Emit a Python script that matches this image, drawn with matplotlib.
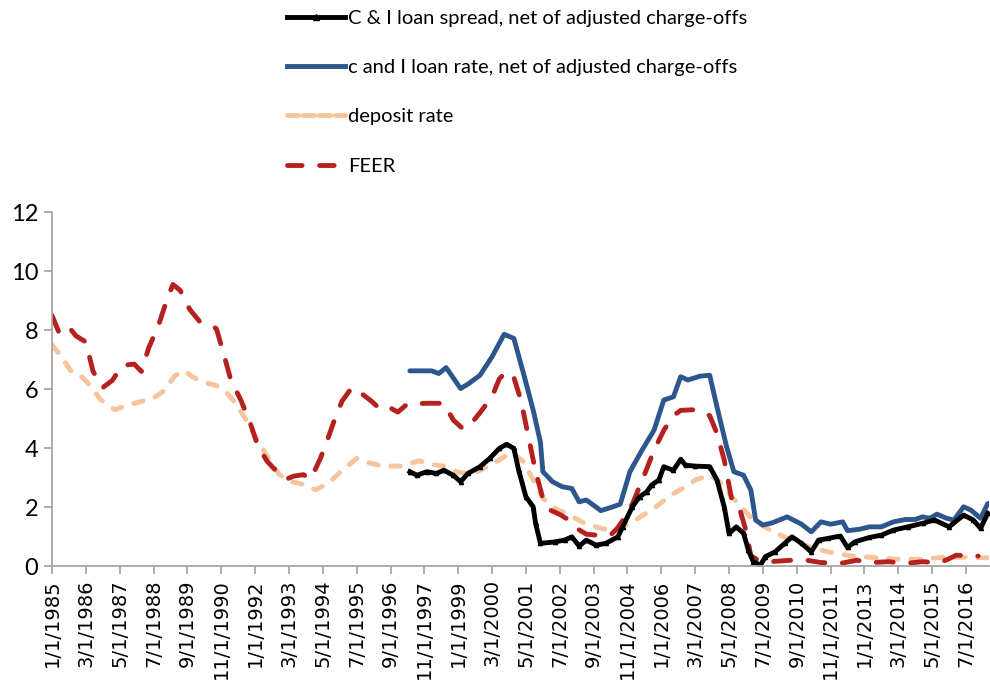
import matplotlib.pyplot as plt
from matplotlib.lines import Line2D
import numpy as np

# Data (month, value)
feer_dates = ['1985-01', '1985-04', '1985-08', '1985-11', '1986-03', '1986-06', '1986-10',
              '1987-02', '1987-06', '1987-11', '1988-02', '1988-05', '1988-09', '1988-12',
              '1989-03', '1989-06', '1989-10', '1990-02', '1990-06', '1990-09', '1990-12',
              '1991-03', '1991-07', '1991-11', '1992-02', '1992-06', '1992-10', '1993-02',
              '1993-05', '1993-09', '1993-12', '1994-04', '1994-07', '1994-10', '1995-01',
              '1995-05', '1995-09', '1996-01', '1996-05', '1996-09', '1996-12', '1997-04',
              '1997-12', '1998-07', '1998-11', '1999-03', '1999-06', '1999-10', '2000-03',
              '2000-06', '2000-09', '2000-12', '2001-03', '2001-06', '2001-09', '2001-12',
              '2002-03', '2002-07', '2002-10', '2003-02', '2003-06', '2003-10', '2004-04',
              '2004-07', '2004-10', '2005-01', '2005-06', '2005-10', '2006-02', '2006-06',
              '2006-09', '2007-02', '2007-06', '2007-09', '2007-12', '2008-03', '2008-06',
              '2008-09', '2008-12', '2009-02', '2009-05', '2009-10', '2010-07', '2011-01',
              '2011-07', '2012-03', '2012-10', '2013-02', '2013-11', '2014-06', '2015-01',
              '2015-08', '2015-12', '2016-03', '2016-10', '2016-12']
feer = [8.5, 7.9, 8.1, 7.8, 7.6, 6.6, 6.05,
        6.3, 6.8, 6.85, 6.6, 7.4, 8.15, 8.9,
        9.55, 9.35, 8.7, 8.3, 8.2, 8.05, 7.2,
        6.3, 5.65, 4.85, 4.1, 3.55, 3.2, 2.95,
        3.05, 3.1, 2.95, 3.65, 4.3, 5.0, 5.6,
        6.05, 5.85, 5.6, 5.3, 5.36, 5.22, 5.5,
        5.52, 5.52, 4.95, 4.65, 4.8, 5.2, 5.75,
        6.35, 6.6, 6.4, 5.6, 4.4, 3.2, 2.3,
        1.9, 1.75, 1.6, 1.28, 1.08, 1.05, 1.05,
        1.3, 1.67, 2.1, 3.1, 3.93, 4.6, 5.1,
        5.28, 5.3, 5.25, 5.1, 4.5, 3.6, 2.3,
        2.05, 1.2, 0.35, 0.2, 0.15, 0.2, 0.2,
        0.12, 0.09, 0.2, 0.11, 0.15, 0.09, 0.15,
        0.11, 0.25, 0.37, 0.34, 0.34]

deposit_dates = ['1985-01', '1985-04', '1985-09', '1986-01', '1986-05', '1986-09', '1987-03',
                 '1987-08', '1988-04', '1988-07', '1988-11', '1989-04', '1989-08', '1989-11',
                 '1990-03', '1990-09', '1991-01', '1991-05', '1991-09', '1992-02', '1992-07',
                 '1992-11', '1993-04', '1993-10', '1994-02', '1994-08', '1995-01', '1995-07',
                 '1996-01', '1996-06', '1997-01', '1997-09', '1998-01', '1998-07', '1999-01',
                 '1999-06', '1999-11', '2000-06', '2000-11', '2001-04', '2001-08', '2001-12',
                 '2002-05', '2002-11', '2003-06', '2004-01', '2004-06', '2004-12', '2005-03',
                 '2005-10', '2006-05', '2006-11', '2007-03', '2007-09', '2008-01', '2008-05',
                 '2008-10', '2009-03', '2009-10', '2010-05', '2010-12', '2011-07', '2012-01',
                 '2012-08', '2013-05', '2014-03', '2015-02', '2015-09', '2016-06', '2017-04']
deposit = [7.5, 7.2, 6.6, 6.45, 6.1, 5.65, 5.3,
           5.45, 5.63, 5.7, 5.92, 6.47, 6.62, 6.42,
           6.25, 6.12, 5.9, 5.52, 5.0, 4.27, 3.6,
           3.1, 2.86, 2.75, 2.58, 2.86, 3.25, 3.65,
           3.48, 3.39, 3.39, 3.57, 3.46, 3.39, 3.18,
           3.12, 3.28, 3.6, 3.86, 3.54, 2.92, 2.3,
           1.96, 1.73, 1.42, 1.26, 1.24, 1.45, 1.6,
           1.96, 2.41, 2.69, 2.92, 3.08, 2.86, 2.46,
           2.01, 1.56, 1.22, 0.94, 0.71, 0.54, 0.43,
           0.34, 0.29, 0.23, 0.23, 0.3, 0.3, 0.28]

loan_dates = ['1997-05', '1998-02', '1998-05', '1998-08', '1999-02', '1999-05', '1999-10',
              '2000-03', '2000-08', '2000-12', '2001-04', '2001-08', '2001-11', '2001-12',
              '2002-04', '2002-08', '2002-12', '2003-03', '2003-06', '2003-12', '2004-05',
              '2004-08', '2004-12', '2005-05', '2005-10', '2006-02', '2006-06', '2006-09',
              '2006-12', '2007-05', '2007-09', '2007-12', '2008-04', '2008-07', '2008-11',
              '2009-02', '2009-04', '2009-07', '2009-11', '2010-05', '2010-11', '2011-03',
              '2011-07', '2011-11', '2012-04', '2012-06', '2012-11', '2013-03', '2013-08',
              '2014-01', '2014-06', '2014-10', '2015-01', '2015-04', '2015-07', '2015-11',
              '2016-02', '2016-06', '2016-09', '2017-01', '2017-04']
loan_rate = [6.62, 6.62, 6.53, 6.73, 6.02, 6.17, 6.47,
             7.1, 7.86, 7.72, 6.53, 5.29, 4.2, 3.2,
             2.86, 2.69, 2.63, 2.18, 2.24, 1.88, 2.01,
             2.1, 3.2, 3.93, 4.61, 5.63, 5.74, 6.42,
             6.31, 6.44, 6.47, 5.4, 4.04, 3.2, 3.08,
             2.58, 1.56, 1.39, 1.47, 1.67, 1.42, 1.16,
             1.5, 1.42, 1.5, 1.2, 1.25, 1.33, 1.33,
             1.5, 1.58, 1.58, 1.67, 1.62, 1.76, 1.62,
             1.56, 2.01, 1.9, 1.62, 2.12]

spread_dates = ['1997-05', '1997-08', '1997-12', '1998-04', '1998-07', '1998-11', '1999-02',
                '1999-05', '1999-10', '2000-02', '2000-06', '2000-09', '2000-12', '2001-02',
                '2001-05', '2001-08', '2001-09', '2001-11', '2002-05', '2002-09', '2002-12',
                '2003-03', '2003-06', '2003-10', '2004-02', '2004-07', '2004-09', '2005-01',
                '2005-04', '2005-07', '2005-09', '2005-12', '2006-02', '2006-06', '2006-09',
                '2006-11', '2007-03', '2007-09', '2007-12', '2008-03', '2008-05', '2008-08',
                '2008-11', '2009-01', '2009-03', '2009-06', '2009-08', '2009-12', '2010-04',
                '2010-07', '2010-11', '2011-03', '2011-06', '2011-10', '2012-03', '2012-06',
                '2012-09', '2013-03', '2013-08', '2014-01', '2014-07', '2015-01', '2015-06',
                '2015-12', '2016-06', '2016-10', '2017-01', '2017-04']
spread = [3.2, 3.08, 3.2, 3.14, 3.25, 3.08, 2.86,
          3.14, 3.37, 3.65, 3.99, 4.13, 3.99, 3.25,
          2.35, 2.01, 1.45, 0.77, 0.82, 0.88, 0.99,
          0.68, 0.88, 0.71, 0.77, 0.99, 1.33, 2.01,
          2.35, 2.52, 2.75, 2.92, 3.37, 3.25, 3.62,
          3.42, 3.39, 3.37, 2.92, 2.01, 1.11, 1.33,
          1.11, 0.54, 0.15, 0.03, 0.32, 0.48, 0.77,
          0.99, 0.77, 0.48, 0.88, 0.94, 1.02, 0.63,
          0.82, 0.97, 1.05, 1.22, 1.33, 1.45, 1.56,
          1.33, 1.73, 1.56, 1.28, 1.79]


def month_index(s):
    y, m = map(int, s.split('-'))
    return (y - 1985) * 12 + m - 1


def to_x(dates):
    return np.array([month_index(d) for d in dates])


fig = plt.figure(figsize=(9.9, 6.98), dpi=100)
ax = fig.add_axes([0.0525, 0.189, 0.946, 0.507])

lw = 3.5
ax.plot(to_x(deposit_dates), deposit, color='#f5c49c', lw=lw,
        dashes=(2.0, 2.6), dash_capstyle='round')
ax.plot(to_x(feer_dates), feer, color='#b5211e', lw=lw,
        dashes=(3.5, 3.6), dash_capstyle='round')
ax.plot(to_x(loan_dates), loan_rate, color='#2c568c', lw=lw, solid_capstyle='round')
ax.plot(to_x(spread_dates), spread, color='black', lw=lw,
        marker='^', markersize=3)

ax.set_xlim(0, 387.3)
ax.set_ylim(0, 12)
ax.set_yticks(range(0, 13, 2))

tick_pos = np.arange(0, 379, 14)
tick_labels = []
for p in tick_pos:
    y, m = divmod(int(p), 12)
    tick_labels.append(f'{m + 1}/1/{1985 + y}')
ax.set_xticks(tick_pos)
ax.set_xticklabels(tick_labels, rotation=90, fontsize=14, family='DejaVu Sans')

for lab in ax.get_yticklabels():
    lab.set_family(['Lato', 'DejaVu Sans'])
    lab.set_fontsize(17)

for s in ['top', 'right']:
    ax.spines[s].set_visible(False)
for s in ['left', 'bottom']:
    ax.spines[s].set_color('#a6a6a6')
    ax.spines[s].set_linewidth(1.3)
ax.tick_params(axis='both', color='#a6a6a6', length=6, width=1.3, direction='out')
ax.tick_params(axis='y', pad=4)

handles = [
    Line2D([], [], color='black', lw=lw, marker='^', markersize=4, markevery=[1]),
    Line2D([], [], color='#2c568c', lw=lw),
    Line2D([], [], color='#f5c49c', lw=lw, dashes=(2.3, 1.0), dash_capstyle='round'),
    Line2D([], [], color='#b5211e', lw=lw, dashes=(3.0, 3.6), dash_capstyle='round'),
]
labels = ['C & I loan spread, net of adjusted charge-offs',
          'c and I loan rate, net of adjusted charge-offs',
          'deposit rate',
          'FEER']
fig.legend(handles, labels, loc='upper left', bbox_to_anchor=(0.272, 1.012),
           frameon=False, handlelength=2.85, handletextpad=0.15, labelspacing=1.6,
           prop={'family': ['Lato', 'DejaVu Sans'], 'size': 14.5})

fig.savefig('out.png', dpi=100)
